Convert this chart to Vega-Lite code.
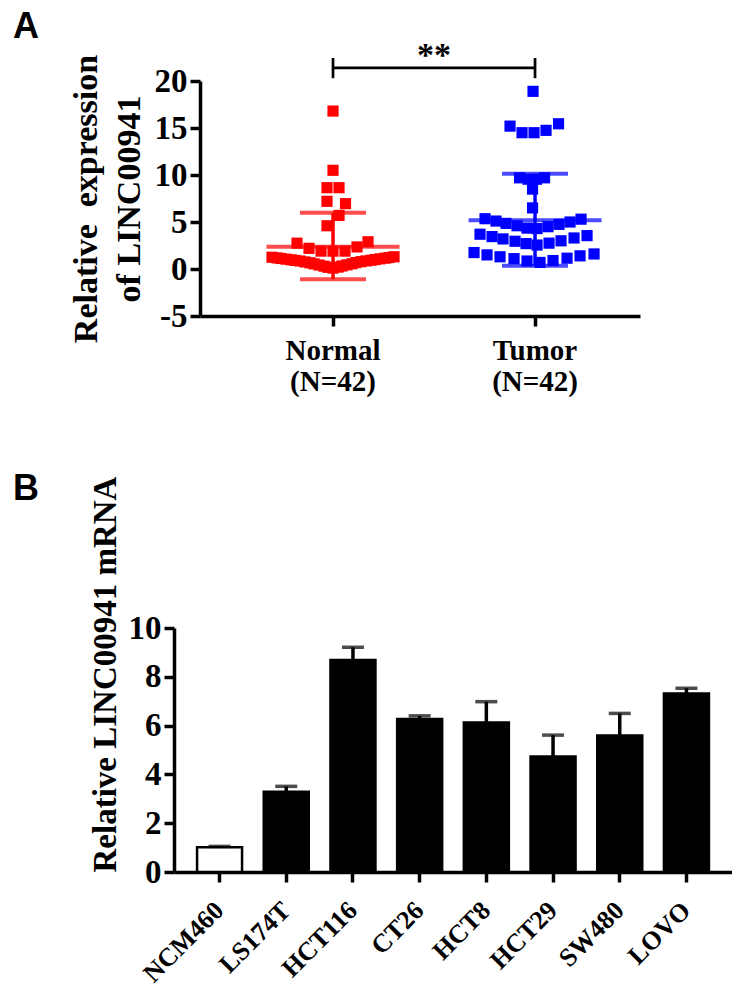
{
  "$schema": "https://vega.github.io/schema/vega-lite/v6.json",
  "background": "white",
  "padding": {"left": 13, "top": 8, "right": 0, "bottom": 0},
  "spacing": 75,
  "config": {
    "view": {"stroke": null},
    "axis": {
      "grid": false,
      "domainColor": "black",
      "domainWidth": 3.5,
      "tickColor": "black",
      "tickWidth": 3.5,
      "tickSize": 10,
      "labelFont": "Liberation Serif",
      "labelFontWeight": "bold",
      "labelColor": "black",
      "titleFont": "Liberation Serif",
      "titleFontWeight": "bold",
      "titleColor": "black"
    },
    "title": {"font": "Liberation Sans", "fontWeight": "bold", "fontSize": 36, "color": "black", "anchor": "start", "frame": "group"}
  },
  "datasets": {
    "pts": [
      {"group": "Normal", "slot": 0, "value": 16.8},
      {"group": "Normal", "slot": 0, "value": 10.5},
      {"group": "Normal", "slot": -0.6, "value": 8.65},
      {"group": "Normal", "slot": 0.6, "value": 8.65},
      {"group": "Normal", "slot": -0.6, "value": 7.2},
      {"group": "Normal", "slot": 1.25, "value": 6.95},
      {"group": "Normal", "slot": 0.6, "value": 5.7},
      {"group": "Normal", "slot": -0.6, "value": 4.6},
      {"group": "Normal", "slot": -3.6, "value": 2.75},
      {"group": "Normal", "slot": -2.4, "value": 2.2},
      {"group": "Normal", "slot": -1.2, "value": 1.9},
      {"group": "Normal", "slot": 0, "value": 1.9},
      {"group": "Normal", "slot": 1.2, "value": 1.9},
      {"group": "Normal", "slot": 2.4, "value": 2.35},
      {"group": "Normal", "slot": 3.5, "value": 2.9},
      {"group": "Normal", "slot": -6.1, "value": 1.25},
      {"group": "Normal", "slot": -5.6, "value": 1.18},
      {"group": "Normal", "slot": -5.2, "value": 1.12},
      {"group": "Normal", "slot": -4.7, "value": 1.05},
      {"group": "Normal", "slot": -4.2, "value": 0.98},
      {"group": "Normal", "slot": -3.8, "value": 0.92},
      {"group": "Normal", "slot": -3.3, "value": 0.85},
      {"group": "Normal", "slot": -2.8, "value": 0.75},
      {"group": "Normal", "slot": -2.3, "value": 0.66},
      {"group": "Normal", "slot": -1.9, "value": 0.55},
      {"group": "Normal", "slot": -1.4, "value": 0.42},
      {"group": "Normal", "slot": -0.9, "value": 0.3},
      {"group": "Normal", "slot": -0.5, "value": 0.18},
      {"group": "Normal", "slot": 0, "value": 0.1},
      {"group": "Normal", "slot": 0.5, "value": 0.2},
      {"group": "Normal", "slot": 0.9, "value": 0.32},
      {"group": "Normal", "slot": 1.4, "value": 0.44},
      {"group": "Normal", "slot": 1.9, "value": 0.56},
      {"group": "Normal", "slot": 2.3, "value": 0.68},
      {"group": "Normal", "slot": 2.8, "value": 0.78},
      {"group": "Normal", "slot": 3.3, "value": 0.86},
      {"group": "Normal", "slot": 3.8, "value": 0.93},
      {"group": "Normal", "slot": 4.2, "value": 1.0},
      {"group": "Normal", "slot": 4.7, "value": 1.08},
      {"group": "Normal", "slot": 5.2, "value": 1.15},
      {"group": "Normal", "slot": 5.6, "value": 1.22},
      {"group": "Normal", "slot": 6.1, "value": 1.3},
      {"group": "Tumor", "slot": -0.2, "value": 18.9},
      {"group": "Tumor", "slot": -2.5, "value": 15.2},
      {"group": "Tumor", "slot": -1.3, "value": 14.5},
      {"group": "Tumor", "slot": -0.1, "value": 14.5},
      {"group": "Tumor", "slot": 1.1, "value": 14.75},
      {"group": "Tumor", "slot": 2.35, "value": 15.45},
      {"group": "Tumor", "slot": -1.55, "value": 9.7},
      {"group": "Tumor", "slot": -0.7, "value": 9.55},
      {"group": "Tumor", "slot": 0.15, "value": 9.55},
      {"group": "Tumor", "slot": 0.95, "value": 9.7},
      {"group": "Tumor", "slot": -0.25, "value": 8.5},
      {"group": "Tumor", "slot": -0.25, "value": 6.5},
      {"group": "Tumor", "slot": -5.0, "value": 5.35},
      {"group": "Tumor", "slot": -3.9, "value": 5.1},
      {"group": "Tumor", "slot": -2.9, "value": 4.85},
      {"group": "Tumor", "slot": -1.8, "value": 4.6},
      {"group": "Tumor", "slot": -0.8, "value": 4.35},
      {"group": "Tumor", "slot": 0.2, "value": 4.3},
      {"group": "Tumor", "slot": 1.3, "value": 4.5},
      {"group": "Tumor", "slot": 2.4, "value": 4.75},
      {"group": "Tumor", "slot": 3.5, "value": 5.0},
      {"group": "Tumor", "slot": 4.6, "value": 5.3},
      {"group": "Tumor", "slot": -5.5, "value": 3.7},
      {"group": "Tumor", "slot": -4.3, "value": 3.45},
      {"group": "Tumor", "slot": -3.2, "value": 3.2},
      {"group": "Tumor", "slot": -2.0, "value": 2.95},
      {"group": "Tumor", "slot": -0.9, "value": 2.7},
      {"group": "Tumor", "slot": 0.2, "value": 2.55},
      {"group": "Tumor", "slot": 1.4, "value": 2.75},
      {"group": "Tumor", "slot": 2.6, "value": 3.0},
      {"group": "Tumor", "slot": 3.9, "value": 3.3},
      {"group": "Tumor", "slot": 5.2, "value": 3.55},
      {"group": "Tumor", "slot": -6.1, "value": 1.75},
      {"group": "Tumor", "slot": -4.8, "value": 1.5},
      {"group": "Tumor", "slot": -3.5, "value": 1.3},
      {"group": "Tumor", "slot": -2.1, "value": 1.1},
      {"group": "Tumor", "slot": -0.8, "value": 0.85},
      {"group": "Tumor", "slot": 0.5, "value": 0.7},
      {"group": "Tumor", "slot": 1.8, "value": 0.9},
      {"group": "Tumor", "slot": 3.2, "value": 1.15},
      {"group": "Tumor", "slot": 4.5, "value": 1.4},
      {"group": "Tumor", "slot": 5.9, "value": 1.6}
    ],
    "summ": [
      {"group": "Normal", "mean": 2.37, "lo": -1.08, "hi": 5.99},
      {"group": "Tumor", "mean": 5.18, "lo": 0.35, "hi": 10.14}
    ],
    "bracket": [
      {"group": "Normal", "y": 21.4, "y1": 20.3, "y2": 22.45},
      {"group": "Tumor", "y": 21.4, "y1": 20.3, "y2": 22.45}
    ],
    "bars": [
      {"cell": "NCM460", "value": 1.01, "upper": 1.05},
      {"cell": "LS174T", "value": 3.29, "upper": 3.51},
      {"cell": "HCT116", "value": 8.69, "upper": 9.21},
      {"cell": "CT26", "value": 6.27, "upper": 6.4},
      {"cell": "HCT8", "value": 6.13, "upper": 6.98},
      {"cell": "HCT29", "value": 4.73, "upper": 5.61},
      {"cell": "SW480", "value": 5.59, "upper": 6.5},
      {"cell": "LOVO", "value": 7.32, "upper": 7.53}
    ]
  },
  "vconcat": [
    {
      "width": 466,
      "height": 235,
      "title": {"text": "A", "dx": -161, "dy": 11},
      "layer": [
        {
          "data": {"name": "pts"},
          "mark": {"type": "point", "shape": "square", "filled": true, "size": 125, "opacity": 1, "strokeWidth": 0},
          "encoding": {
            "x": {
              "field": "group", "type": "nominal", "sort": ["Normal", "Tumor"],
              "scale": {"type": "band", "range": [26, 466], "paddingInner": 0, "paddingOuter": 0.089, "align": 0.89},
              "axis": {"title": null, "labelAngle": 0, "labelFontSize": 29, "labelLineHeight": 31, "labelPadding": 10, "labelExpr": "[datum.label, '(N=42)']"}
            },
            "xOffset": {"field": "slot", "type": "quantitative", "scale": {"domain": [-10.1, 10.1]}},
            "y": {
              "field": "value", "type": "quantitative",
              "scale": {"domain": [-5, 20], "nice": false, "zero": false},
              "axis": {"offset": -26, "values": [-5, 0, 5, 10, 15, 20], "labelExpr": "datum.value + ''", "labelFontSize": 33, "labelPadding": 3, "title": ["Relative\u00a0\u00a0expression", "of LINC00941"], "titleFontSize": 34, "titleLineHeight": 43, "titlePadding": 8}
            },
            "color": {"field": "group", "type": "nominal", "scale": {"domain": ["Normal", "Tumor"], "range": ["#FF0000", "#0000FF"]}, "legend": null}
          }
        },
        {
          "data": {"name": "summ"},
          "mark": {"type": "tick", "orient": "horizontal", "size": 133, "thickness": 4},
          "encoding": {
            "x": {"field": "group", "type": "nominal"},
            "y": {"field": "mean", "type": "quantitative"},
            "color": {"field": "group", "type": "nominal", "legend": null}
          }
        },
        {
          "data": {"name": "summ"},
          "mark": {"type": "tick", "orient": "horizontal", "size": 66, "thickness": 4},
          "encoding": {
            "x": {"field": "group", "type": "nominal"},
            "y": {"field": "lo", "type": "quantitative"},
            "color": {"field": "group", "type": "nominal", "legend": null}
          }
        },
        {
          "data": {"name": "summ"},
          "mark": {"type": "tick", "orient": "horizontal", "size": 66, "thickness": 4},
          "encoding": {
            "x": {"field": "group", "type": "nominal"},
            "y": {"field": "hi", "type": "quantitative"},
            "color": {"field": "group", "type": "nominal", "legend": null}
          }
        },
        {
          "data": {"name": "summ"},
          "mark": {"type": "rule", "strokeWidth": 3.5},
          "encoding": {
            "x": {"field": "group", "type": "nominal"},
            "y": {"field": "lo", "type": "quantitative"},
            "y2": {"field": "hi"},
            "color": {"field": "group", "type": "nominal", "legend": null}
          }
        },
        {
          "data": {"name": "bracket"},
          "mark": {"type": "line", "color": "black", "strokeWidth": 2.7},
          "encoding": {
            "x": {"field": "group", "type": "nominal"},
            "y": {"field": "y", "type": "quantitative"}
          }
        },
        {
          "data": {"name": "bracket"},
          "mark": {"type": "rule", "color": "black", "strokeWidth": 2.7},
          "encoding": {
            "x": {"field": "group", "type": "nominal"},
            "y": {"field": "y1", "type": "quantitative"},
            "y2": {"field": "y2"}
          }
        },
        {
          "data": {"values": [{"group": "Normal", "label": "**", "y": 21.6}]},
          "mark": {"type": "text", "font": "Liberation Serif", "fontWeight": "bold", "fontSize": 34, "baseline": "alphabetic", "align": "center", "color": "black"},
          "encoding": {
            "x": {"field": "group", "type": "nominal", "bandPosition": 1},
            "y": {"field": "y", "type": "quantitative"},
            "text": {"field": "label"}
          }
        }
      ]
    },
    {
      "width": 558,
      "height": 244,
      "title": {"text": "B", "dx": -161, "dy": 36},
      "data": {"name": "bars"},
      "encoding": {
        "x": {
          "field": "cell", "type": "nominal",
          "sort": ["NCM460", "LS174T", "HCT116", "CT26", "HCT8", "HCT29", "SW480", "LOVO"],
          "scale": {"type": "band", "paddingInner": 0.3, "paddingOuter": 0.333},
          "axis": {"title": null, "labelAngle": -45, "labelBaseline": "middle", "labelFontSize": 26, "labelPadding": 24}
        }
      },
      "layer": [
        {
          "mark": {"type": "bar", "stroke": "black", "strokeWidth": 2.5, "size": 45},
          "encoding": {
            "y": {
              "field": "value", "type": "quantitative",
              "scale": {"domain": [0, 10], "nice": false},
              "axis": {"values": [0, 2, 4, 6, 8, 10], "labelFontSize": 33, "labelPadding": 3, "title": "Relative LINC00941 mRNA", "titleFontSize": 33, "titleAnchor": "start", "titlePadding": 6}
            },
            "fill": {"condition": {"test": "datum.cell === 'NCM460'", "value": "white"}, "value": "black"}
          }
        },
        {
          "mark": {"type": "rule", "strokeWidth": 3.5, "color": "black"},
          "encoding": {
            "y": {"field": "value", "type": "quantitative"},
            "y2": {"field": "upper"}
          }
        },
        {
          "mark": {"type": "tick", "orient": "horizontal", "size": 22, "thickness": 3.5, "color": "black"},
          "encoding": {
            "y": {"field": "upper", "type": "quantitative"}
          }
        }
      ]
    }
  ]
}
